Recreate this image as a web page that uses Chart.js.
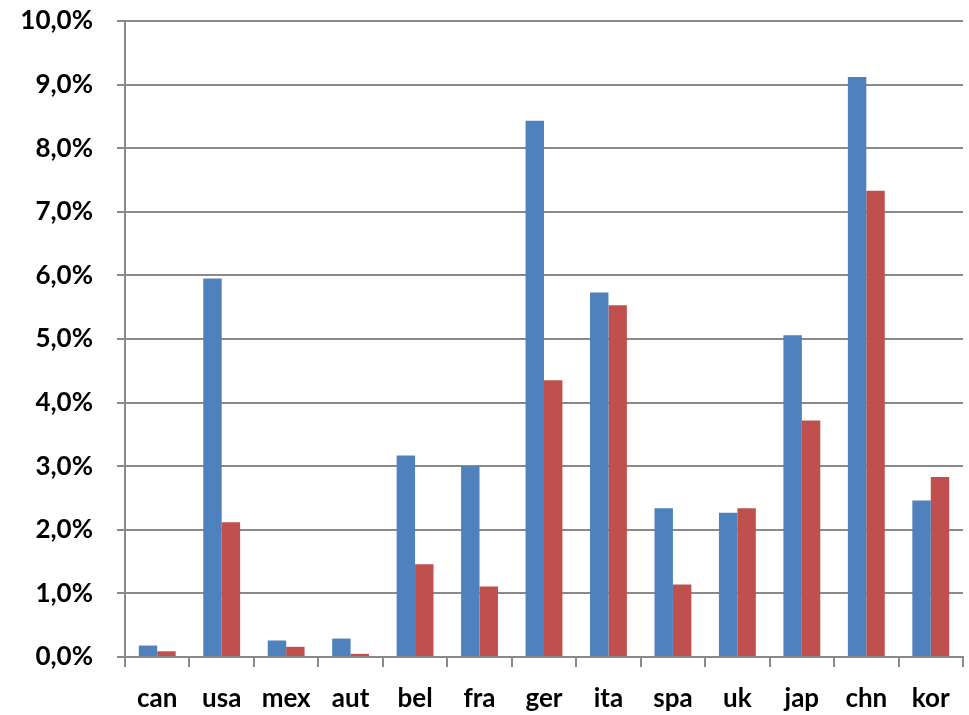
<!DOCTYPE html>
<html>
<head>
<meta charset="utf-8">
<script src="https://cdn.jsdelivr.net/npm/chart.js@4/dist/chart.umd.min.js"></script>
<style>
  html, body { margin: 0; padding: 0; background: #fff; }
  #wrap { width: 969px; height: 715px; }
</style>
</head>
<body>
<div id="wrap"><canvas id="c" width="969" height="715"></canvas></div>
<script>
// Country codes along the x axis
const categories = ['can', 'usa', 'mex', 'aut', 'bel', 'fra', 'ger', 'ita', 'spa', 'uk', 'jap', 'chn', 'kor'];
// Shares in percent, first series (blue) and second series (red)
const seriesA = [0.18, 5.95, 0.26, 0.29, 3.17, 3.00, 8.43, 5.73, 2.34, 2.27, 5.06, 9.12, 2.46];
const seriesB = [0.09, 2.12, 0.16, 0.05, 1.46, 1.11, 4.35, 5.53, 1.14, 2.34, 3.72, 7.33, 2.83];
// Value axis range and step
const yMin = 0, yMax = 10, yStep = 1;

const fontFamily = 'Lato, "Open Sans", "Liberation Sans", sans-serif';
const gridGray = '#8a8a8a';

new Chart(document.getElementById('c'), {
  type: 'bar',
  data: {
    labels: categories,
    datasets: [
      { data: seriesA, backgroundColor: '#4F81BD', borderWidth: 0 },
      { data: seriesB, backgroundColor: '#C0504D', borderWidth: 0 }
    ]
  },
  options: {
    responsive: false,
    animation: false,
    devicePixelRatio: 1,
    layout: { padding: { top: 21, right: 6, bottom: 0, left: 0 } },
    plugins: { legend: { display: false }, tooltip: { enabled: false } },
    datasets: { bar: { categoryPercentage: 0.572, barPercentage: 1.0 } },
    scales: {
      x: {
        afterFit: (s) => { s.height = 58; s.paddingLeft = 0; s.paddingRight = 0; },
        grid: { display: true, drawOnChartArea: false, drawTicks: true, tickLength: 10, offset: true, color: gridGray, lineWidth: 2 },
        border: { display: true, color: gridGray, width: 2 },
        ticks: { color: '#000', font: { family: fontFamily, size: 26, weight: 'bold' }, padding: 16, maxRotation: 0, autoSkip: false }
      },
      y: {
        min: yMin, max: yMax,
        afterFit: (s) => { s.width = 125; s.paddingTop = 0; s.paddingBottom = 0; },
        grid: { color: gridGray, lineWidth: 2, drawTicks: true, tickLength: 8 },
        border: { display: true, color: gridGray, width: 2 },
        ticks: {
          stepSize: yStep,
          color: '#000',
          padding: 24,
          font: { family: fontFamily, size: 26, weight: 'bold' },
          callback: (v) => v.toFixed(1).replace('.', ',') + '%'
        }
      }
    }
  }
});
</script>
</body>
</html>
